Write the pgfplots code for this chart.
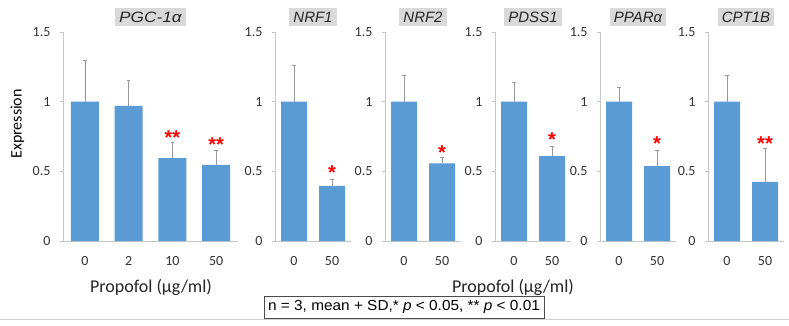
\documentclass[border=0pt]{standalone}
\usepackage{pgfplots}
\pgfplotsset{compat=1.18}
\usepackage{fontspec}
\setmainfont{Carlito}
\newfontfamily\arialf{Liberation Sans}
\definecolor{barblue}{HTML}{5B9BD5}
\definecolor{titlegray}{HTML}{D9D9D9}
\pgfplotsset{
  panel/.style={
    scale only axis,
    height=209pt,
    ymin=0, ymax=1.5,
    ytick={0,0.5,1,1.5},
    yticklabels={0,0.5,1,1.5},
    axis x line=bottom, axis y line=left,
    axis line style={gray!45, line width=0.6pt, -},
    major tick style={gray!45, line width=0.6pt},
    minor tick style={gray!45, line width=0.6pt},
    tick align=outside,
    major tick length=3pt,
    minor tick length=3pt,
    /pgf/number format/assume math mode=true,
    tick label style={font=\fontsize{14}{14}\selectfont, text=black!80},
    xtick style={draw=none},
    xticklabel style={yshift=-9pt},
    yticklabel style={xshift=-6pt},
    title style={font=\arialf\itshape\fontsize{15}{15}\selectfont, fill=titlegray, inner xsep=4pt, inner ysep=3.5pt, anchor=south, at={(0.5,1)}, yshift=0pt, text=black!85},
    clip=false,
  },
  bars/.style={ybar, bar width=#1, fill=barblue, draw=none,
    error bars/.cd, y dir=plus, y explicit,
    error bar style={gray!80, line width=0.6pt},
    error mark options={gray!80, rotate=90, mark size=1.8pt, line width=0.6pt}},
  stars/.style={only marks, mark=none, nodes near coords, point meta=explicit symbolic,
    every node near coord/.style={anchor=center, inner sep=0pt, font=\arialf\bfseries\fontsize{20}{20}\selectfont, text=red, yshift=-3pt}},
}
\begin{document}
\begin{tikzpicture}
\path[use as bounding box, fill=white] (0pt,0pt) rectangle (789pt,325pt);
\draw[gray!35, line width=1pt] (0pt,6pt) -- (789pt,6pt);

% Panel 1 PGC-1a
\begin{axis}[panel, at={(63pt,84pt)}, anchor=south west, width=175pt,
  xmin=-0.5, xmax=3.5, xtick={0,1,2,3}, xticklabels={0,2,10,50},
  minor xtick={-0.5,0.5,1.5,2.5,3.5},
  title={\scalebox{1.15}[1]{PGC-1α}},
  ylabel={Expression}, ylabel style={font=\fontsize{16}{16}\selectfont, at={(axis description cs:-0.26,0.56)}, anchor=center}]
\addplot[bars=28pt] table[x=x, y=y, y error=e] {
x y e
0 1.000 0.300
1 0.970 0.186
2 0.594 0.112
3 0.546 0.107
};
\addplot[stars] coordinates {(2,0.765)[**] (3,0.71)[**]};
\end{axis}

% Panel 2 NRF1
\begin{axis}[panel, at={(275pt,84pt)}, anchor=south west, width=76pt,
  xmin=-0.5, xmax=1.5, xtick={0,1}, xticklabels={0,50},
  minor xtick={-0.5,0.5,1.5}, title={NRF1}]
\addplot[bars=26pt] table[x=x, y=y, y error=e] {
x y e
0 1.000 0.260
1 0.395 0.050
};
\addplot[stars] coordinates {(1,0.51)[*]};
\end{axis}

% Panel 3 NRF2
\begin{axis}[panel, at={(385pt,84pt)}, anchor=south west, width=76pt,
  xmin=-0.5, xmax=1.5, xtick={0,1}, xticklabels={0,50},
  minor xtick={-0.5,0.5,1.5}, title={NRF2}]
\addplot[bars=26pt] table[x=x, y=y, y error=e] {
x y e
0 1.000 0.190
1 0.558 0.040
};
\addplot[stars] coordinates {(1,0.655)[*]};
\end{axis}

% Panel 4 PDSS1
\begin{axis}[panel, at={(495pt,84pt)}, anchor=south west, width=76pt,
  xmin=-0.5, xmax=1.5, xtick={0,1}, xticklabels={0,50},
  minor xtick={-0.5,0.5,1.5}, title={PDSS1}]
\addplot[bars=26pt] table[x=x, y=y, y error=e] {
x y e
0 1.000 0.140
1 0.610 0.070
};
\addplot[stars] coordinates {(1,0.75)[*]};
\end{axis}

% Panel 5 PPARa
\begin{axis}[panel, at={(600pt,84pt)}, anchor=south west, width=76pt,
  xmin=-0.5, xmax=1.5, xtick={0,1}, xticklabels={0,50},
  minor xtick={-0.5,0.5,1.5}, title={PPARα}]
\addplot[bars=26pt] table[x=x, y=y, y error=e] {
x y e
0 1.000 0.100
1 0.538 0.115
};
\addplot[stars] coordinates {(1,0.72)[*]};
\end{axis}

% Panel 6 CPT1B
\begin{axis}[panel, at={(708pt,84pt)}, anchor=south west, width=76pt,
  xmin=-0.5, xmax=1.5, xtick={0,1}, xticklabels={0,50},
  minor xtick={-0.5,0.5,1.5}, title={CPT1B}]
\addplot[bars=26pt] table[x=x, y=y, y error=e] {
x y e
0 1.000 0.190
1 0.424 0.244
};
\addplot[stars] coordinates {(1,0.72)[**]};
\end{axis}

\node[font=\fontsize{18}{18}\selectfont, text=black!85] at (151pt,38pt) {Propofol (µg/ml)};
\node[font=\fontsize{18}{18}\selectfont, text=black!85] at (513pt,38pt) {Propofol (µg/ml)};
\node[draw=black!70, line width=0.7pt, font=\arialf\fontsize{14.5}{14.5}\selectfont, inner xsep=4pt, inner ysep=3pt, minimum height=22pt] at (404pt,18pt)
  {\scalebox{1.06}[1]{n = 3, mean + SD,* \textit{p} < 0.05, ** \textit{p} < 0.01}};
\end{tikzpicture}
\end{document}
